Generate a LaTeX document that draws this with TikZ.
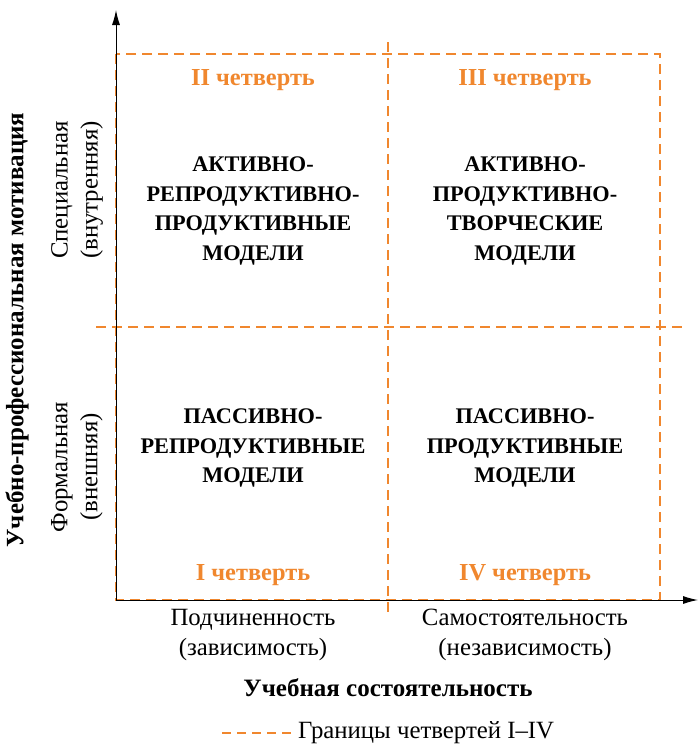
\documentclass[tikz,border=0pt]{standalone}
\usepackage{fontspec}
\setmainfont{Liberation Serif}
\usetikzlibrary{arrows.meta}
\definecolor{qorange}{HTML}{F0872E}
\begin{document}
\begin{tikzpicture}[x=1pt,y=-1pt,
  bnd/.style={draw=qorange,line width=1.8pt,dash pattern=on 10pt off 6pt},
  axisline/.style={draw=black,line width=1pt,-{Latex[length=15pt,width=8pt]}},
  qtitle/.style={text=qorange,font=\bfseries\fontsize{24.4}{26}\selectfont},
  model/.style={align=center,font=\bfseries\fontsize{22.3}{29.6}\selectfont},
  lab/.style={align=center,font=\fontsize{24.8}{30}\selectfont},
  bigtitle/.style={font=\bfseries\fontsize{25}{27}\selectfont}]
\useasboundingbox (0,0) rectangle (699,744);
% quarter boundaries
\coordinate (rTL) at (116,54);
\coordinate (rBR) at (660,600);
\draw[bnd] (rTL) rectangle (rBR);
\coordinate (vT) at (388,42);
\coordinate (vB) at (388,612);
\draw[bnd] (vT) -- (vB);
\coordinate (hL) at (96,327);
\coordinate (hR) at (682,327);
\draw[bnd] (hL) -- (hR);
% axes
\coordinate (O) at (116,600);
\coordinate (yEnd) at (116,10);
\coordinate (xEnd) at (698,600);
\draw[axisline] (O) -- (yEnd);
\draw[axisline] (O) -- (xEnd);
% quarter titles
\node[qtitle] (q2) at (253,80) {II четверть};
\node[qtitle] (q3) at (525,80) {III четверть};
\node[qtitle] (q1) at (253,575) {I четверть};
\node[qtitle] (q4) at (525,575) {IV четверть};
% models
\node[model] (m2) at (253,211) {АКТИВНО-\\РЕПРОДУКТИВНО-\\ПРОДУКТИВНЫЕ\\МОДЕЛИ};
\node[model] (m3) at (525,211) {АКТИВНО-\\ПРОДУКТИВНО-\\ТВОРЧЕСКИЕ\\МОДЕЛИ};
\node[model] (m1) at (253,448) {ПАССИВНО-\\РЕПРОДУКТИВНЫЕ\\МОДЕЛИ};
\node[model] (m4) at (525,448) {ПАССИВНО-\\ПРОДУКТИВНЫЕ\\МОДЕЛИ};
% y-axis labels
\node[lab,rotate=90] (ySpec) at (77,190) {Специальная\\(внутренняя)};
\node[lab,rotate=90] (yForm) at (77,467) {Формальная\\(внешняя)};
\node[bigtitle,rotate=90] (yTitle) at (17,330) {Учебно-профессиональная мотивация};
% x-axis labels
\node[lab] (xSub) at (253,635) {Подчиненность\\(зависимость)};
\node[lab] (xInd) at (525,635) {Самостоятельность\\(независимость)};
\node[bigtitle] (xTitle) at (388,688) {Учебная состоятельность};
% legend
\coordinate (lgA) at (222,733);
\coordinate (lgB) at (294,733);
\draw[bnd,line width=1.5pt,dash pattern=on 9pt off 6pt] (lgA) -- (lgB);
\node[lab,anchor=west,inner sep=0pt] (lgT) at (298,733) {Границы четвертей I–IV};
\end{tikzpicture}
\end{document}
